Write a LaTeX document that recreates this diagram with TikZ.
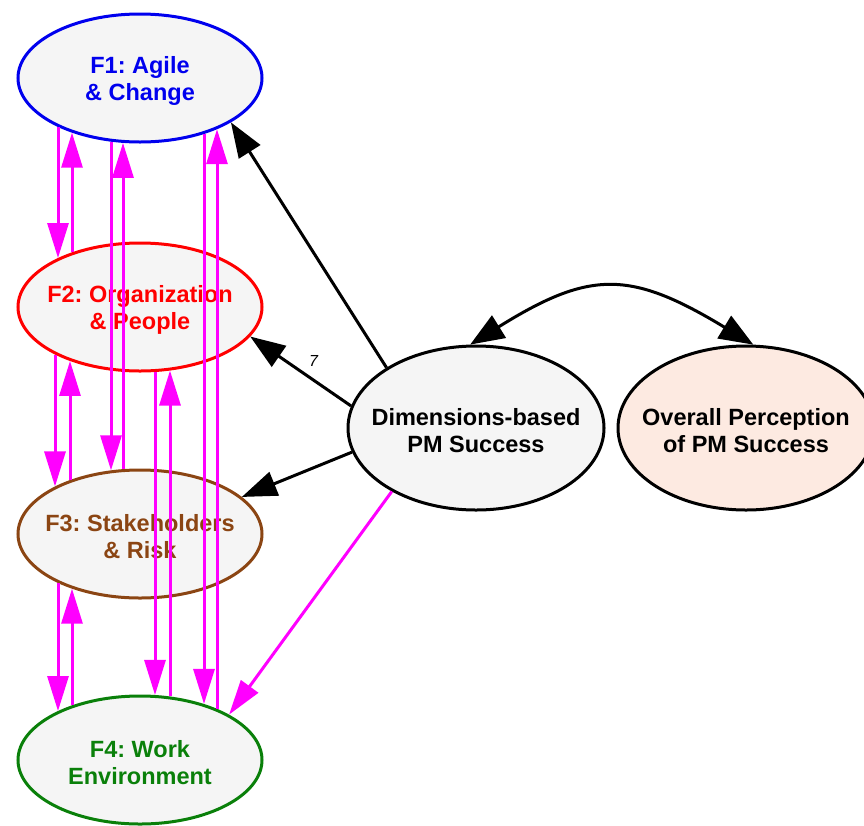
\documentclass[tikz,border=0pt]{standalone}
\usepackage{fontspec}
\setmainfont{Liberation Sans}
\usetikzlibrary{shapes.geometric,arrows.meta,calc}
\definecolor{nodefill}{HTML}{F5F5F5}
\definecolor{ovrfill}{HTML}{FDEAE1}
\definecolor{fblue}{HTML}{0000EE}
\definecolor{fred}{HTML}{FF0000}
\definecolor{fbrown}{HTML}{8B4513}
\definecolor{fgreen}{HTML}{0A800A}
\definecolor{mag}{HTML}{FF00FF}
\frenchspacing
\tikzset{
  fac/.style={ellipse, minimum width=244pt, minimum height=128pt, inner sep=0pt,
    fill=nodefill, line width=3pt, align=center,
    font=\bfseries\fontsize{23.5}{27}\selectfont},
  big/.style={ellipse, minimum width=#1, minimum height=164pt, inner sep=0pt,
    line width=3pt, draw=black, align=center,
    font=\bfseries\fontsize{23.5}{27}\selectfont},
  magarrow/.style={draw=mag, line width=3pt, -{Triangle[length=35pt,width=21pt]}},
  blkarrow/.style={draw=black, line width=3pt, -{Triangle[length=35pt,width=25pt]}},
  lbl/.style={font=\itshape\fontsize{16}{16}\selectfont, inner sep=0pt}
}
\newcommand{\twol}[2]{\makebox[0pt]{\rule{0pt}{22pt}#1}\\\makebox[0pt]{#2}}
\newcommand{\magdown}[3]{\draw[magarrow] let \n1={65.5*sqrt(1-((#3)/123.5)^2)} in ($(#1.center)+(#3,\n1)$) -- ($(#2.center)+(#3,-\n1)$);}
\newcommand{\magup}[3]{\draw[magarrow] let \n1={65.5*sqrt(1-((#3)/123.5)^2)} in ($(#2.center)+(#3,-\n1)$) -- ($(#1.center)+(#3,\n1)$);}
\begin{document}
\begin{tikzpicture}[x=1pt,y=-1pt]
\useasboundingbox (0,0) rectangle (864,825);
\clip (0,0) rectangle (864,825);
\node[fac, draw=fblue, text=fblue] (F1) at (140,78) {\twol{F1: Agile}{\& Change}};
\node[fac, draw=fred, text=fred] (F2) at (140,307) {\twol{F2: Organization}{\& People}};
\node[fac, draw=fbrown, text=fbrown] (F3) at (140,534) {\twol{F3: Stakeholders}{\& Risk}};
\node[fac, draw=fgreen, text=fgreen] (F4) at (140,760) {\twol{F4: Work}{Environment}};
\node[big=256pt, fill=nodefill] (Dim) at (476,428) {\twol{Dimensions-based}{PM Success}};
\node[big=256pt, fill=ovrfill] (Ovr) at (746,428) {\twol{Overall Perception}{of PM Success}};

% F1 <-> F2
\magdown{F1}{F2}{-82}
\magup{F1}{F2}{-68}
% F1 <-> F3
\magdown{F1}{F3}{-29}
\magup{F1}{F3}{-17}
% F1 <-> F4
\magdown{F1}{F4}{64}
\magup{F1}{F4}{77}
% F2 <-> F3
\magdown{F2}{F3}{-85}
\magup{F2}{F3}{-70}
% F2 <-> F4
\magdown{F2}{F4}{15}
\magup{F2}{F4}{30}
% F3 <-> F4
\magdown{F3}{F4}{-82}
\magup{F3}{F4}{-68}

\draw[blkarrow] (Dim.146) -- (F1.-26);
\draw[blkarrow] (Dim.170) -- (F2.-15) node[lbl, pos=0.47, above right=5pt, xshift=-1pt] (l7) {7};
\draw[blkarrow] (Dim.191) -- (F3.20);
\draw[magarrow] (Dim.217) -- (F4.27);
\draw[blkarrow, {Triangle[length=34pt,width=26pt]}-{Triangle[length=34pt,width=26pt]}]
  (Dim.94) .. controls (590,270) and (630,270) .. (Ovr.85);
\end{tikzpicture}
\end{document}
